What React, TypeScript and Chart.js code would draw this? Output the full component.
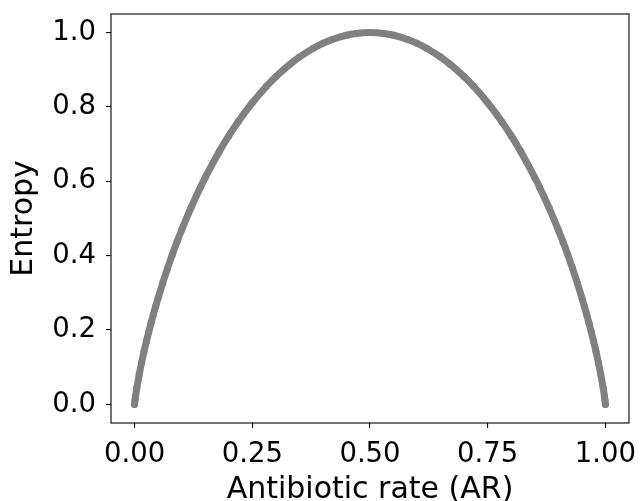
import { useEffect, useRef } from 'react';
import { Chart, registerables } from 'chart.js';

Chart.register(...registerables);

const arRate = [
  0, 0.001, 0.002, 0.005, 0.01, 0.015, 0.02, 0.025, 0.03, 0.035, 0.04, 0.045, 0.05, 0.06, 0.07, 0.08, 0.09,
  0.1, 0.12, 0.14, 0.15, 0.18, 0.2, 0.22, 0.25, 0.28, 0.3, 0.33, 0.35, 0.38, 0.4, 0.42, 0.45, 0.47, 0.5,
  0.53, 0.55, 0.58, 0.6, 0.62, 0.65, 0.67, 0.7, 0.72, 0.75, 0.78, 0.8, 0.82, 0.85, 0.86, 0.88, 0.9, 0.91,
  0.92, 0.93, 0.94, 0.95, 0.955, 0.96, 0.965, 0.97, 0.975, 0.98, 0.985, 0.99, 0.995, 0.998, 0.999, 1.0,
];
const entropy = [
  0, 0.0114, 0.0208, 0.0454, 0.0808, 0.1124, 0.1414, 0.1687, 0.1944, 0.2189, 0.2423, 0.2648, 0.2864, 0.3274,
  0.3659, 0.4022, 0.4365, 0.469, 0.5294, 0.5842, 0.6098, 0.6801, 0.7219, 0.7602, 0.8113, 0.8555, 0.8813,
  0.9149, 0.9341, 0.958, 0.971, 0.9815, 0.9928, 0.9974, 1.0,
  0.9974, 0.9928, 0.9815, 0.971, 0.958, 0.9341, 0.9149, 0.8813, 0.8555, 0.8113, 0.7602, 0.7219, 0.6801,
  0.6098, 0.5842, 0.5294, 0.469, 0.4365, 0.4022, 0.3659, 0.3274, 0.2864, 0.2648, 0.2423, 0.2189, 0.1944,
  0.1687, 0.1414, 0.1124, 0.0808, 0.0454, 0.0208, 0.0114, 0,
];
const xTickValues = [0, 0.25, 0.5, 0.75, 1.0];
const yTickValues = [0, 0.2, 0.4, 0.6, 0.8, 1.0];
const xLabel = 'Antibiotic rate (AR)';
const yLabel = 'Entropy';

const FONT = "'DejaVu Sans', sans-serif";

const framePlugin = {
  id: 'frame',
  afterDraw(chart: any) {
    const { ctx, chartArea } = chart;
    ctx.save();
    ctx.strokeStyle = '#000';
    ctx.lineWidth = 1.1;
    ctx.strokeRect(chartArea.left, chartArea.top, chartArea.right - chartArea.left, chartArea.bottom - chartArea.top);
    ctx.restore();
  },
};

export default function App() {
  const ref = useRef<HTMLCanvasElement>(null);

  useEffect(() => {
    if (!ref.current) return;
    const points = arRate.map((x, i) => ({ x, y: entropy[i] }));
    const chart = new Chart(ref.current, {
      type: 'scatter',
      data: {
        datasets: [
          {
            data: points,
            showLine: true,
            borderColor: '#808080',
            borderWidth: 7,
            borderCapStyle: 'round',
            borderJoinStyle: 'round',
            cubicInterpolationMode: 'monotone',
            backgroundColor: '#808080',
            pointRadius: 3.5,
            pointBorderWidth: 0,
            pointHoverRadius: 3.5,
          } as any,
        ],
      },
      options: {
        responsive: false,
        animation: false,
        devicePixelRatio: 1,
        layout: { padding: { left: 0, right: 13, top: 14, bottom: 0 } },
        plugins: { legend: { display: false }, tooltip: { enabled: false } },
        scales: {
          x: {
            type: 'linear',
            min: -0.05,
            max: 1.05,
            afterBuildTicks: (s: any) => {
              s.ticks = xTickValues.map((v) => ({ value: v }));
            },
            afterFit: (s: any) => {
              s.height = 78;
              s.paddingLeft = 0;
              s.paddingRight = 0;
            },
            border: { display: false },
            grid: { display: true, drawOnChartArea: false, drawTicks: true, tickLength: 5, color: '#000', lineWidth: 1.1 },
            ticks: {
              color: '#000',
              padding: 10,
              maxRotation: 0,
              font: { family: FONT, size: 27.5 },
              callback: (v: any) => Number(v).toFixed(2),
            },
            title: {
              display: true,
              text: xLabel,
              color: '#000',
              font: { family: FONT, size: 30, lineHeight: 0.7 },
              padding: 0,
            },
          },
          y: {
            type: 'linear',
            min: -0.05,
            max: 1.05,
            afterBuildTicks: (s: any) => {
              s.ticks = yTickValues.map((v) => ({ value: v }));
            },
            afterFit: (s: any) => {
              s.width = 111;
              s.paddingTop = 0;
              s.paddingBottom = 0;
            },
            border: { display: false },
            grid: { display: true, drawOnChartArea: false, drawTicks: true, tickLength: 5, color: '#000', lineWidth: 1.1 },
            ticks: {
              color: '#000',
              padding: 10,
              font: { family: FONT, size: 27.5 },
              callback: (v: any) => Number(v).toFixed(1),
            },
            title: {
              display: true,
              text: yLabel,
              color: '#000',
              font: { family: FONT, size: 30, lineHeight: 1.2 },
              padding: { top: 6, bottom: 0 },
            },
          },
        },
      },
      plugins: [framePlugin],
    });
    return () => chart.destroy();
  }, []);

  return (
    <div style={{ position: 'absolute', left: 0, top: 0, width: 642, height: 501, background: '#fff' }}>
      <canvas ref={ref} width={642} height={501} style={{ display: 'block' }} />
    </div>
  );
}
